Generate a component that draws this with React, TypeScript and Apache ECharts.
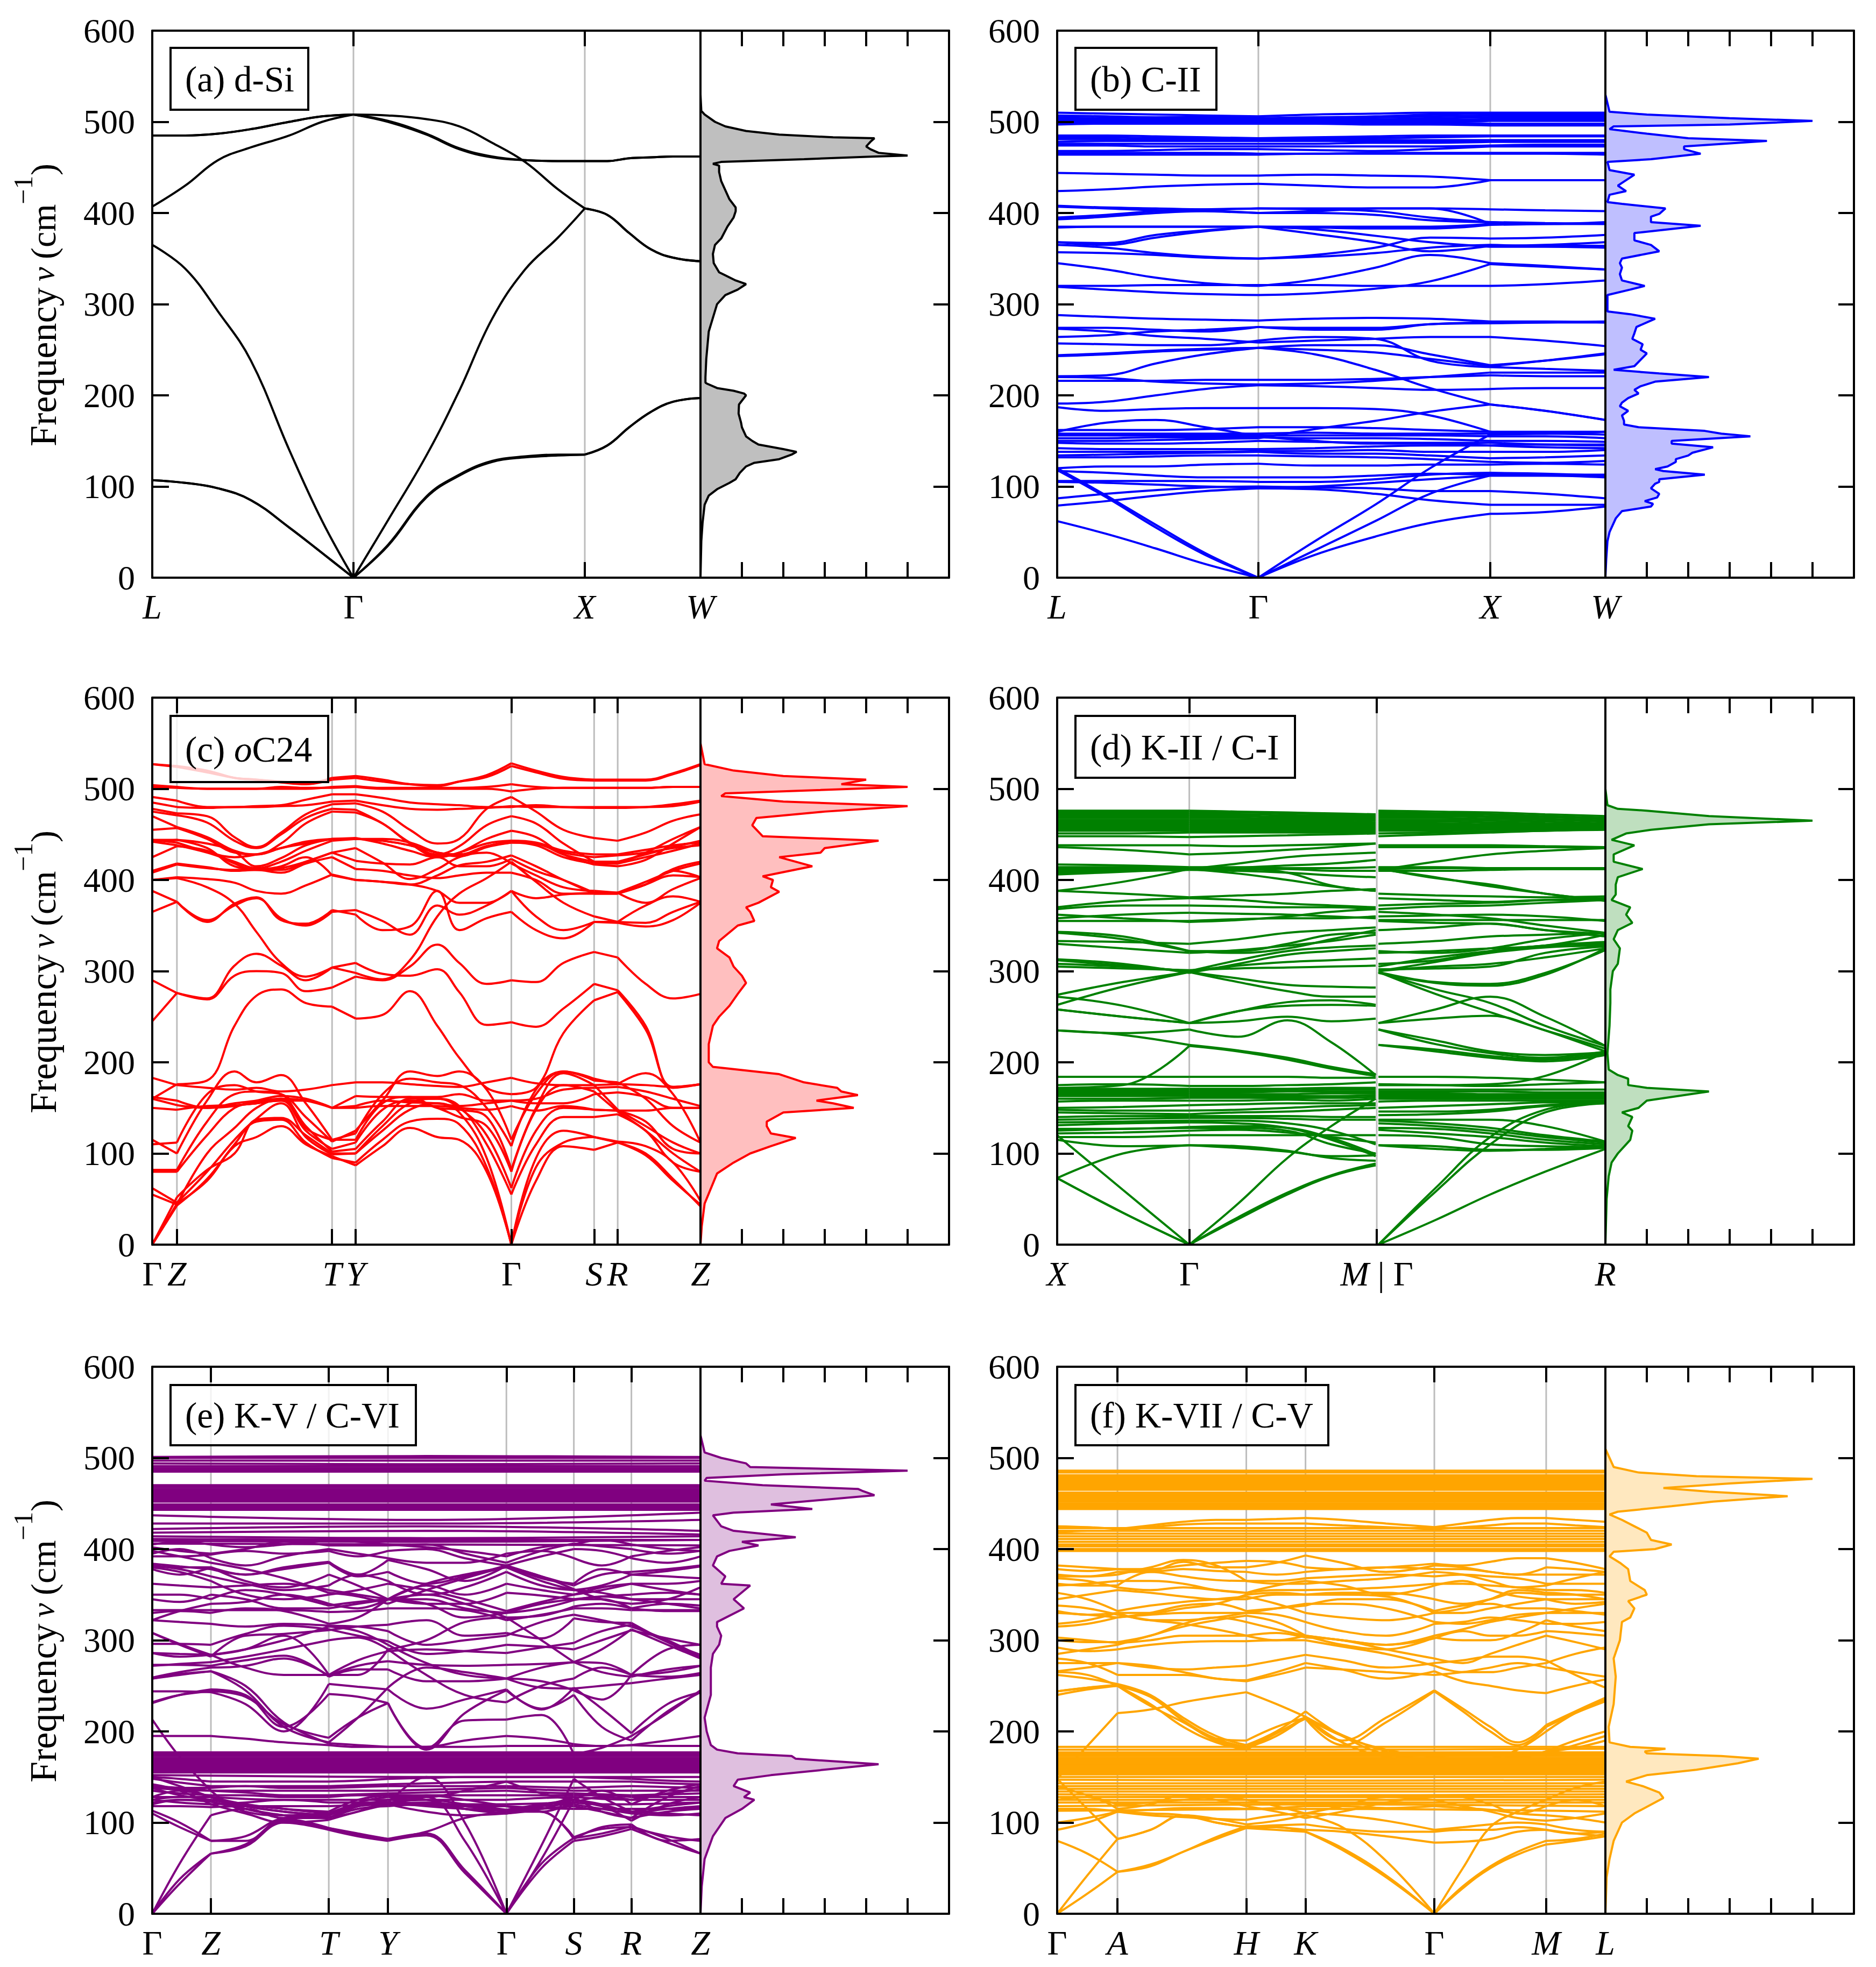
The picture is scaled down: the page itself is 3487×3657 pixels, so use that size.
import React, { useEffect, useRef } from "react";
import * as echarts from "echarts";

const FONT = "Liberation Serif";
const freqTicks = [0, 100, 200, 300, 400, 500, 600];
const whole = [0, .5, 1];

// (a) d-Si
const kA = [0,.06,.12,.18,.25,.31,.367,.43,.5,.56,.62,.68,.74,.789,.83,.87,.91,.95,1];
const bandsA = [
 [107,104,98,85,55,27,0,35,88,112,127,132,134,135,145,165,182,193,197],
 [107,104,98,85,55,27,0,36,89,113,128,133,135,135,145,165,182,193,197],
 [365,339,292,238,140,62,0,63,134,205,284,338,373,405,398,378,360,351,347],
 [407,430,458,472,485,500,508,507,503,495,477,456,426,405,398,378,360,351,347],
 [485,485,487,492,500,506,508,500,486,470,461,458,457,457,457,460,461,462,462],
 [485,485,487,492,500,506,508,501,487,471,462,458,457,457,457,460,461,462,462],
];
const dosA = [[0,0],[.02,40],[.05,60],[.1,80],[.2,90],[.4,97],[.7,104],[.85,108],[.95,115],[1.1,122],[1.3,126],[1.9,130],[2.2,135],[2.32,138],[2,141],[1.4,146],[1.25,150],[1.1,155],[1.05,160],[1,165],[.98,170],[.95,175],[.92,180],[.93,190],[1.1,200],[1.05,202],[.8,205],[.4,208],[.15,213],[.12,214],[.12,220],[.14,240],[.2,270],[.4,300],[.6,310],[.9,316],[1.1,322],[.85,326],[.45,335],[.32,345],[.3,355],[.35,365],[.5,372],[.65,385],[.8,395],[.85,402],[.85,406],[.7,415],[.6,425],[.5,435],[.45,445],[.45,452],[.3,454],[.5,456],[2.5,459],[4.2,462],[5,463],[4.3,466],[4.1,470],[4,473],[4.1,478],[4.2,482],[3.2,483],[1.9,486],[1.1,490],[.6,495],[.35,500],[.1,508],[.02,512],[0,530]];

// (b) C-II
const kB = [0,.09,.18,.27,.367,.47,.58,.68,.79,.89,1];
const bandsB = [
 [62,48,32,15,0,25,45,60,70,72,78],[118,88,55,25,0,30,62,92,112,112,112],[120,90,58,27,0,40,80,120,157,158,160],
 [79,84,90,95,98,97,92,85,80,80,80],[87,92,96,99,100,99,98,95,95,92,87],[105,104,102,100,99,100,104,108,112,112,110],
 [106,106,106,106,105,105,108,113,115,114,112],[117,115,112,110,110,110,112,114,113,113,113],[120,122,122,124,125,123,123,124,124,125,124],
 [132,132,133,134,134,133,132,130,127,126,128],[134,135,136,137,138,136,136,134,131,132,134],[138,138,138,138,139,139,140,138,138,138,140],
 [142,141,141,141,141,142,144,145,145,143,142],[148,147,147,148,150,149,148,148,148,146,145],[153,153,154,154,154,153,153,152,150,150,149],
 [156,156,156,156,156,156,156,156,155,155,153],[158,158,158,158,158,159,158,158,158,158,157],[160,170,173,165,155,150,147,147,145,146,146],
 [162,162,162,163,165,165,164,162,160,160,160],[150,150,151,152,153,163,172,182,190,183,173],[187,183,185,186,186,186,185,178,160,158,160],
 [191,193,200,207,211,210,208,206,207,208,208],[216,216,216,217,217,217,218,220,222,221,221],[220,219,215,213,212,213,216,220,225,225,225],
 [221,222,235,245,252,245,228,208,190,183,173],[244,246,249,251,252,250,247,240,232,238,246],[243,245,248,250,252,255,255,245,233,238,245],
 [257,256,255,255,260,264,262,238,231,229,227],[273,270,265,262,258,260,262,264,264,260,254],[264,266,270,272,275,274,274,278,279,280,281],
 [274,274,272,270,275,272,272,278,280,280,280],[288,286,284,283,282,284,285,284,281,281,280],[320,320,321,321,321,321,320,320,320,322,326],
 [319,316,313,311,310,312,317,325,344,341,338],[345,338,329,323,320,327,340,354,345,342,338],[357,356,354,351,350,352,356,362,365,364,364],
 [365,362,356,352,350,354,362,373,372,373,376],[368,365,373,380,385,377,368,358,364,365,368],[368,367,376,381,385,382,375,368,363,363,362],
 [385,385,385,385,385,385,385,385,388,388,388],[384,385,385,385,385,384,383,383,387,388,389],[393,396,400,402,400,400,398,392,390,388,390],
 [395,398,402,404,405,404,402,395,390,389,388],[408,406,405,404,405,405,405,405,404,403,402],[407,405,403,402,400,402,405,405,388,388,388],
 [424,426,429,431,432,430,428,428,436,436,436],[444,443,442,441,441,442,441,440,436,436,436],
 [464,464,464,464,464,465,465,465,465,465,464],[466,466,466,466,465,465,466,466,466,466,466],[468,468,469,470,470,469,468,470,473,473,473],
 [474,474,473,473,473,473,473,473,474,475,475],[476,476,476,476,476,476,477,477,478,478,478],[478,479,479,479,479,479,479,479,479,479,479],
 [481,481,480,480,480,480,480,480,480,480,480],[483,483,482,482,481,482,482,483,484,484,484],[485,485,484,483,482,483,484,485,485,485,485],
 [497,498,498,498,498,498,497,497,496,496,496],[499,499,499,499,499,499,499,499,498,498,498],[500,500,500,500,500,500,500,500,501,501,501],
 [502,501,501,501,501,502,502,502,503,503,503],[503,503,503,502,502,503,503,504,505,505,505],[505,504,504,503,503,504,505,506,507,507,507],
 [507,506,505,505,504,505,506,508,509,509,509],[510,509,508,507,506,508,509,510,510,510,510],
];
const dosB = [[0,0],[.02,20],[.05,40],[.1,50],[.25,65],[.4,73],[1.1,78],[1.15,81],[.95,84],[1.25,88],[1.3,92],[1.1,98],[1.2,103],[1.3,105],[1.3,108],[2.4,113],[1.4,117],[1.2,119],[1.5,122],[1.7,127],[1.7,130],[2,134],[2.1,137],[2.6,143],[1.6,147],[1.6,150],[3.5,155],[2.8,158],[2.4,161],[.8,165],[.45,168],[.45,172],[.4,178],[.55,183],[.35,188],[.4,192],[.55,197],[.8,202],[.7,206],[.85,210],[1.2,215],[2.5,220],[1.3,224],[.2,228],[.7,232],[1,246],[.85,250],[.9,256],[.65,262],[.7,268],[.75,275],[1.2,284],[.6,289],[.05,292],[.05,300],[.05,310],[.6,316],[.95,320],[.4,326],[.35,333],[.4,340],[.35,345],[.4,350],[1.3,358],[1.1,365],[.7,370],[.7,378],[2.3,386],[1.1,390],[1.1,396],[1.3,399],[1.45,405],[.4,410],[.05,412],[.1,420],[.5,424],[.3,430],[.7,442],[.1,447],[.05,456],[1.1,459],[2.3,465],[1.9,470],[1.9,473],[3.9,479],[2,482],[1,487],[.1,492],[.2,495],[3,497],[5,501],[3,504],[1,508],[.1,511],[0,530]];

// (c) oC24
const kC = [0,.045,.1,.15,.19,.235,.28,.328,.371,.42,.47,.52,.56,.61,.655,.70,.75,.806,.849,.9,.95,1];
const bandsC = [
 [0,45,70,108,118,130,110,97,87,108,128,118,115,80,0,70,108,104,112,98,70,44],
 [0,43,72,110,135,137,112,95,90,115,135,138,132,85,0,85,112,118,112,100,72,42],
 [0,52,82,100,137,139,120,100,100,125,148,155,145,95,0,95,125,118,113,108,90,48],
 [62,46,80,115,138,155,118,99,100,130,155,160,152,110,55,110,140,140,143,125,90,80],
 [55,44,100,128,150,160,130,102,105,135,160,160,150,120,62,125,150,148,147,135,105,100],
 [80,80,120,150,155,158,125,105,112,148,158,150,140,130,80,148,175,168,146,125,100,80],
 [82,82,135,165,168,165,128,115,115,155,162,150,148,140,82,150,188,175,148,130,112,100],
 [110,112,165,175,168,165,140,113,125,158,190,185,190,170,115,165,190,180,178,160,130,112],
 [115,100,158,190,178,186,155,115,122,165,182,178,175,150,108,170,190,182,176,188,165,112],
 [150,148,152,153,155,158,158,150,150,152,152,152,150,148,152,147,152,148,147,147,150,150],
 [160,153,150,152,157,160,158,150,152,158,156,155,152,155,158,155,155,165,167,162,150,150],
 [162,158,150,155,158,163,160,150,163,162,162,162,165,158,158,160,170,172,173,168,160,152],
 [183,175,172,170,172,168,170,175,178,178,176,174,173,178,183,177,175,175,176,175,173,176],
 [160,176,180,240,273,280,265,261,248,252,278,240,205,172,165,172,232,268,277,236,173,176],
 [245,276,270,306,319,306,290,304,309,297,295,302,277,241,244,239,259,286,279,240,172,176],
 [290,276,269,295,300,298,278,282,294,290,305,329,309,286,290,288,309,321,315,286,270,275],
 [400,402,392,374,343,309,294,304,298,291,312,360,385,402,420,398,375,360,354,353,365,376],
 [365,376,354,374,381,356,352,367,362,345,349,388,345,358,365,345,336,354,353,349,356,375],
 [388,376,356,372,380,358,350,365,367,355,340,372,362,372,388,360,345,354,354,372,382,376],
 [400,403,401,397,388,385,394,406,400,398,395,388,375,375,388,380,384,386,386,375,390,402],
 [408,417,413,411,411,413,420,430,435,419,401,412,425,430,418,405,392,388,386,398,410,418],
 [425,437,432,418,411,411,420,430,421,418,417,425,415,415,423,410,400,386,386,395,412,420],
 [442,444,435,415,412,415,425,405,400,398,395,405,416,420,427,415,400,385,385,395,405,403],
 [410,418,414,410,411,408,418,425,412,410,405,402,405,408,408,400,385,385,385,395,410,403],
 [444,441,431,425,428,435,440,445,446,440,432,425,430,440,443,440,430,425,427,430,435,438],
 [444,444,440,431,415,424,438,445,445,443,438,430,428,437,443,441,432,428,428,433,438,441],
 [442,438,430,420,413,420,432,443,445,445,441,430,426,436,441,440,428,420,420,428,436,443],
 [455,457,445,430,428,435,442,445,445,443,438,430,428,437,441,438,425,418,418,425,432,440],
 [478,473,470,447,436,452,472,483,484,475,455,440,445,478,491,475,455,446,443,452,465,472],
 [475,471,463,443,435,450,468,478,477,462,441,428,437,460,470,462,440,420,418,430,445,458],
 [470,458,447,432,428,440,462,475,474,462,440,426,430,445,454,447,428,417,415,422,440,458],
 [491,487,480,480,481,482,488,494,494,490,485,483,482,480,480,482,480,479,479,480,483,487],
 [485,480,479,480,480,481,482,486,487,482,478,477,478,479,481,480,480,480,480,480,481,486],
 [504,502,500,500,500,500,500,502,503,501,501,501,501,502,505,502,501,501,501,501,502,502],
 [502,501,500,500,500,502,501,501,502,500,500,500,500,500,497,500,501,501,501,501,502,502],
 [527,525,520,512,510,508,506,512,514,510,505,503,508,515,528,520,513,510,510,510,517,527],
 [527,524,518,512,510,507,505,510,512,508,505,504,508,513,525,518,511,509,509,509,516,526],
];
const dosC = [[0,0],[.03,20],[.1,45],[.4,78],[.8,90],[1.2,100],[1.7,108],[2.3,117],[1.7,122],[1.6,130],[1.6,135],[2,145],[3.7,150],[3.2,155],[2.8,158],[3.8,164],[3.4,168],[3.3,172],[2.5,178],[1.9,187],[.3,195],[.2,200],[.2,220],[.3,240],[.45,250],[.7,262],[.9,275],[1.1,287],[1,295],[.8,305],[.7,315],[.4,325],[.45,333],[.9,350],[1.3,355],[1.2,365],[1.1,370],[1.4,375],[1.9,387],[1.7,392],[1.75,400],[1.5,404],[2.7,415],[1.9,425],[2.9,430],[3,435],[4.3,443],[1.5,448],[1.25,460],[1.35,468],[3,475],[5,481],[2,486],[.5,492],[.6,495],[5,502],[3.4,505],[4,510],[2,514],[.8,520],[.1,527],[0,550]];

// (d) K-II / C-I
const kD1 = [0,.12,.241,.33,.42,.50,.581];
const bandsD1 = [
 [73,35,0,28,55,75,87],[73,35,0,30,57,76,89],[120,60,0,45,95,130,160],[73,100,109,108,103,95,92],[115,108,109,106,102,97,98],
 [118,118,120,120,120,120,120],[122,123,125,126,123,118,112],[125,127,128,128,125,110,100],[127,127,129,130,128,117,99],[131,133,134,133,128,115,97],
 [134,135,136,136,133,125,110],[137,138,139,139,138,137,137],[140,141,141,141,141,140,140],[145,144,143,145,146,148,150],[148,147,147,148,150,152,153],[150,151,153,154,155,155,155],
 [157,158,158,158,159,158,160],[160,160,161,161,161,161,162],[163,163,163,163,163,163,164],[165,165,165,165,165,166,166],[167,167,167,167,168,168,168],[169,169,169,169,169,170,170],[171,171,171,171,171,172,172],[175,176,174,174,175,176,178],[184,184,184,184,184,183,183],
 [172,175,218,212,203,193,185],[235,230,219,213,205,195,187],[235,232,236,228,246,222,186],[258,250,243,245,250,245,248],[263,283,299,292,285,283,282],[274,288,299,288,278,272,272],[272,262,243,256,266,268,263],[258,250,243,256,262,263,262],
 [305,303,301,303,304,305,306],[308,305,300,306,310,312,314],[313,308,298,308,318,322,325],[312,306,300,312,322,326,328],[330,325,320,323,328,333,340],[343,338,322,320,325,335,345],[342,335,322,322,330,340,342],[333,332,330,335,342,345,348],
 [355,355,355,357,358,358,360],[358,362,364,363,362,360,358],[362,358,354,356,360,365,368],[368,372,372,371,370,370,368],[370,377,380,378,374,372,370],[388,385,381,383,385,388,390],
 [388,398,412,412,408,394,388],[408,410,412,407,400,393,388],[406,409,412,418,425,428,430],[410,410,411,410,408,405,403],[412,412,412,412,412,410,410],[414,414,413,413,413,413,414],[417,416,414,414,416,418,422],
 [436,433,428,430,433,436,440],[438,438,438,437,438,439,440],
 [448,448,447,448,449,450,451],[451,451,452,452,452,452,452],[454,454,454,454,454,454,454],[456,456,456,456,456,456,456],[458,458,458,458,458,458,458],[460,460,460,460,460,460,460],[462,462,462,462,462,462,462],[464,464,464,464,464,464,463],[466,466,466,466,466,466,465],[468,468,468,468,467,467,467],[470,470,470,470,469,469,468],[472,472,472,472,471,470,469],[474,474,474,474,473,472,470],[476,476,476,475,474,473,472],
];
const kD2 = [.586,.69,.79,.89,1];
const bandsD2 = [
 [0,27,55,80,105],[0,58,110,145,155],[0,62,118,148,156],[109,108,104,104,106],[109,105,103,105,108],[120,118,110,108,107],[126,122,118,112,108],[128,127,122,115,110],[133,130,125,118,112],[136,133,128,120,113],[137,137,137,130,113],
 [142,143,146,152,155],[146,146,148,153,156],[150,152,154,156,157],[157,158,158,158,158],[160,160,160,160,160],[162,162,162,162,162],[164,164,164,163,163],[166,166,165,165,165],[168,168,168,167,167],[170,170,170,170,170],[176,175,174,176,178],[184,184,183,181,178],[175,175,176,185,211],
 [219,214,207,203,210],[219,212,205,201,208],[236,224,212,208,211],[236,220,210,205,212],[243,258,272,250,218],[243,248,251,235,215],[299,280,265,240,218],[299,275,255,235,212],[298,287,284,296,325],[299,288,286,298,323],
 [300,305,308,315,325],[302,303,305,320,327],[300,310,320,326,328],[305,315,322,328,330],[308,312,322,328,332],[320,322,325,328,340],[322,320,325,335,342],[330,333,338,340,342],[345,348,352,345,341],[355,353,352,345,338],[356,356,356,356,356],[360,361,362,360,355],[365,362,358,350,342],[368,371,372,375,378],[372,374,375,378,380],[380,378,376,378,378],[385,383,382,381,382],
 [413,402,395,385,378],[412,403,393,385,377],[414,414,413,412,412],[412,413,413,413,413],[410,410,411,412,412],[411,420,428,432,435],[436,436,436,436,435],[438,438,438,437,436],
 [448,450,452,454,455],[451,452,453,454,456],[454,454,455,455,456],[456,456,457,457,457],[458,458,458,458,458],[460,460,460,460,459],[462,462,461,461,460],[464,464,463,462,461],[466,466,465,464,462],[468,468,467,466,464],[470,470,469,467,465],[472,472,470,469,467],[474,473,472,470,468],[476,475,474,472,470],
];
const dosD = [[0,0],[.03,50],[.08,75],[.15,90],[.3,100],[.5,110],[.6,115],[.65,125],[.55,130],[.65,140],[.4,145],[.8,150],[1,158],[2.5,168],[1,172],[.55,175],[.55,182],[.3,186],[.08,192],[.05,210],[.1,240],[.12,265],[.12,280],[.18,300],[.3,308],[.35,325],[.2,335],[.3,345],[.65,353],[.5,362],[.6,370],[.15,378],[.25,384],[.25,395],[.3,403],[.9,412],[.2,420],[.2,428],[.7,438],[.15,444],[.5,451],[1.1,455],[2.5,461],[5,465],[2.5,470],[1,476],[.3,478],[.05,482],[0,500]];

// (e) K-V / C-VI
const kE = [0,.05,.107,.17,.24,.322,.375,.43,.5,.57,.646,.71,.769,.82,.874,.94,1];
const bandsE = [
 [0,33,66,74,100,92,85,80,86,45,0,50,80,85,93,78,66],[0,38,66,76,102,94,87,82,88,48,0,55,83,88,96,82,66],
 [0,55,108,115,105,105,118,125,128,80,0,75,148,128,112,110,108],[113,100,80,80,104,94,88,82,90,105,112,112,82,95,98,80,82],
 [110,95,80,85,105,108,118,122,118,115,113,112,84,93,95,85,80],[213,172,135,112,108,110,120,122,150,100,0,60,125,120,110,108,110],
 [232,240,244,238,208,193,215,231,182,212,213,218,175,182,195,220,245],[231,240,246,240,205,241,238,231,180,220,245,225,240,205,190,222,243],
 [244,244,243,230,200,252,249,246,225,235,246,224,248,225,198,230,243],[258,263,266,245,205,188,215,248,270,265,258,255,245,235,262,260,264],
 [258,262,266,250,210,187,185,183,183,183,184,184,184,184,185,184,184],
 [273,273,272,278,283,260,268,268,255,255,258,248,247,250,253,258,262],[259,265,270,272,280,261,272,277,273,272,273,274,276,265,260,268,272],
 [286,285,284,290,305,262,278,288,290,288,286,292,297,310,317,298,284],[296,296,295,307,316,312,305,299,285,288,295,293,290,300,311,302,295],
 [308,295,282,305,307,311,315,317,322,305,308,302,324,320,319,298,282],[322,332,340,342,350,340,335,345,345,335,330,335,344,348,345,340,335],
 [330,332,330,335,332,318,325,345,350,340,325,327,337,340,335,332,332],[333,333,333,333,333,331,332,335,335,333,322,328,335,335,333,333,333],
 [350,350,345,355,350,338,342,345,340,340,352,349,345,348,350,352,350],[362,360,358,360,362,355,350,345,360,350,362,355,350,358,362,362,365],
 [378,372,380,365,358,372,360,345,362,372,380,365,355,360,372,370,368],[381,380,380,372,378,385,370,375,362,370,382,370,360,372,375,378,382],
 [384,381,378,372,380,386,372,388,378,365,382,368,362,378,372,376,381],[392,392,394,398,395,398,392,398,400,390,382,392,400,398,390,385,392],
 [402,398,395,400,408,404,404,404,405,395,385,398,406,403,400,395,398],
 [120,125,123,115,108,105,115,118,120,115,110,115,118,112,105,112,115],[122,125,125,118,112,108,118,120,122,118,112,118,120,115,110,115,118],
 [125,128,128,120,115,110,120,122,125,120,114,120,125,118,112,118,122],[118,118,117,118,118,118,119,120,119,118,118,116,115,115,115,115,116],
 [125,122,120,122,125,122,122,122,121,120,120,121,122,120,120,121,122],[128,128,128,126,125,125,125,125,125,125,125,127,128,126,125,125,125],
 [135,132,130,130,128,128,130,130,130,130,130,130,130,130,128,128,128],[138,136,135,133,130,130,131,132,133,134,135,133,132,131,130,131,132],
 [140,138,135,135,135,135,135,135,136,137,138,136,135,135,135,135,135],[137,138,138,140,138,138,139,140,140,140,140,139,138,139,140,139,138],
 [148,144,140,140,140,140,141,142,143,144,145,145,145,145,145,143,142],[150,148,145,145,145,145,146,148,149,150,150,150,150,149,148,146,145],
 [308,296,284,290,300,315,310,295,275,262,258,270,276,275,262,265,272],[286,282,284,270,262,262,262,290,300,320,325,300,276,290,312,295,280],
 [272,274,276,282,290,300,303,290,262,240,232,250,258,270,262,290,295],[322,320,318,315,318,316,315,310,295,300,305,320,328,322,315,300,282],
 [345,342,350,345,335,335,340,345,340,325,330,340,345,345,335,340,338],[380,375,365,350,345,350,355,362,355,345,332,342,350,355,362,355,350],
 [382,378,370,362,355,360,372,365,350,358,375,360,355,352,345,345,345],[398,392,385,378,368,352,348,340,355,368,381,370,356,345,340,345,358],
 [395,400,390,382,392,400,395,390,385,385,395,398,390,382,392,398,402],[405,408,405,402,405,410,408,405,402,398,392,402,405,410,405,400,398],
 [150,140,128,118,112,108,122,128,125,115,110,115,125,118,102,120,128],[142,135,120,110,100,103,112,120,112,108,110,118,128,112,105,128,140],
 [128,135,128,115,108,106,112,125,130,125,118,112,122,128,125,132,136],[138,130,125,120,115,112,125,130,128,135,145,132,125,135,120,135,142],
 [195,195,195,192,188,185,183,183,183,190,195,192,186,184,185,190,195],
];
const flatE = [[152,150,150],[155,155,155],[157,157,157],[159,159,159],[161,161,161],[163,163,163],[165,165,165],[167,167,167],[169,169,169],[171,171,171],[173,173,173],[175,175,175],[177,177,177],
 [406,405,404],[409,408,410],[411,410,410],[414,412,414],[418,420,416],[422,425,420],[428,428,432],[437,432,440],
 [443,443,443],[445,445,445],[447,447,447],[449,449,449],[452,452,452],[454,454,454],[456,456,456],[458,458,458],[460,460,460],[462,462,462],[464,464,464],[466,466,466],[468,468,468],[470,470,470],
 [485,485,485],[487,487,487],[489,489,489],[491,491,491],[494,493,494],[497,497,497],[500,500,500],[501,502,501]];
const dosE = [[0,0],[.03,30],[.1,60],[.3,85],[.6,105],[1,115],[1.3,125],[1.05,128],[1.2,133],[.8,140],[.9,147],[1.7,152],[4.3,164],[2.3,170],[2.2,173],[.9,176],[.4,180],[.25,185],[.15,200],[.1,215],[.25,240],[.25,270],[.3,285],[.45,295],[.5,305],[.4,315],[.4,320],[1.05,335],[.8,345],[1.2,360],[.5,362],[.6,370],[.3,382],[.4,392],[.7,398],[1.4,404],[1,408],[2.3,413],[.8,420],[.5,425],[.3,437],[.8,440],[2.7,444],[1.7,449],[4.2,459],[3.9,464],[3.8,466],[1.5,470],[.1,475],[.15,478],[2,482],[5,486],[1.2,490],[1.1,494],[.5,500],[.1,506],[0,525]];

// (f) K-VII / C-V
const kF = [0,.055,.110,.17,.23,.29,.345,.40,.453,.52,.60,.688,.74,.79,.84,.892,.945,1];
const bandsF = [
 [0,22,46,52,68,82,94,92,90,70,40,0,28,50,65,76,80,85],[0,42,82,92,108,100,95,95,90,72,42,0,30,52,68,80,82,88],
 [80,66,46,54,68,84,96,95,92,90,85,78,79,82,90,92,88,85],[92,100,112,110,108,100,95,97,98,93,90,90,92,92,95,92,88,90],
 [148,115,82,92,108,104,98,102,108,95,58,0,50,95,112,125,138,145],[148,184,220,224,232,238,243,230,216,196,178,165,165,170,180,200,220,235],
 [262,258,252,240,215,195,185,200,222,195,175,170,168,168,170,178,190,200],[265,262,250,238,212,192,190,205,215,195,180,172,170,170,172,176,185,195],
 [244,248,251,238,212,192,183,198,216,188,172,168,168,170,172,178,182,190],[240,246,250,228,210,190,182,195,216,190,215,245,225,205,188,207,222,237],
 [244,248,250,230,205,188,180,198,214,185,210,244,222,200,185,205,220,233],[266,270,275,272,265,258,256,265,275,268,258,266,255,250,245,242,250,257],
 [275,275,275,270,268,270,272,278,284,278,270,275,278,282,282,278,262,248],[280,275,262,262,262,258,255,262,270,268,265,262,265,270,275,270,265,260],
 [292,288,290,295,298,299,299,300,300,293,285,272,265,265,270,275,285,292],[303,300,297,300,305,305,305,308,303,300,290,280,275,285,295,305,298,290],
 [285,290,295,305,315,322,327,320,305,300,295,302,310,305,305,310,308,305],[300,298,298,305,318,325,320,312,305,295,290,303,300,300,308,322,315,310],
 [315,318,325,328,330,330,330,328,320,310,305,318,320,325,322,318,318,320],[318,322,330,322,322,325,330,335,340,340,335,320,318,322,328,330,330,330],
 [330,328,325,330,338,340,332,335,338,345,345,332,338,340,335,335,332,328],[332,328,330,330,335,340,350,352,350,350,348,330,330,335,340,345,345,345],
 [345,350,355,352,348,345,345,350,350,352,352,345,340,345,352,350,350,350],[360,362,365,365,362,355,352,355,355,356,358,362,362,360,358,355,355,352],
 [362,360,360,375,370,366,365,365,368,370,372,370,372,370,368,362,362,362],[370,370,375,375,378,376,375,372,375,378,380,378,378,375,372,372,372,372],
 [382,380,378,378,382,385,387,386,380,378,380,384,382,386,390,390,385,378],[378,376,378,376,386,380,380,385,393,385,375,382,380,375,372,380,378,375],
 [425,424,422,426,430,432,432,433,434,432,428,424,428,432,434,434,432,430],[418,420,420,424,427,428,428,428,428,426,424,422,424,426,428,428,426,424],
 [100,105,112,108,106,104,103,108,110,108,102,92,95,98,100,98,92,90],[115,115,112,114,116,116,115,116,118,118,116,118,116,114,110,108,105,100],
 [338,335,328,322,318,312,305,300,305,300,295,305,312,320,325,330,335,340],[352,345,332,338,342,345,348,340,330,325,322,330,335,345,355,352,350,345],
 [368,365,358,355,358,355,352,360,365,360,350,360,365,355,348,345,340,342],[372,370,372,380,388,382,365,362,362,365,368,375,372,365,358,360,368,375],
 [125,128,115,120,130,125,118,112,105,112,122,130,128,120,110,118,125,118],[140,130,120,122,125,128,125,118,110,118,128,125,118,112,105,102,105,110],
];
const flatF = [[113,115,112],[118,120,118],[122,122,122],[125,125,125],[128,128,128],[131,130,131],[134,134,134],[137,137,137],[140,140,140],[143,143,143],[147,146,147],[150,150,150],
 [153,153,153],[155,155,155],[157,157,157],[159,159,159],[161,161,161],[163,163,163],[165,165,165],[167,167,167],[169,169,169],[171,171,171],[173,173,173],[175,175,175],[177,177,177],[180,180,181],[183,183,183],
 [398,398,398],[400,400,400],[403,403,403],[405,405,405],[408,408,408],[411,411,411],[414,414,414],[417,417,417],[420,420,420],[423,423,423],
 [444,444,444],[446,446,446],[448,448,448],[450,450,450],[452,452,452],[454,454,454],[456,456,456],[458,458,458],[460,460,460],[462,462,462],[465,465,465],[467,467,467],[469,469,469],[471,471,471],[473,473,473],[475,475,475],[477,477,477],[479,479,479],[481,481,481],[484,484,484],[486,486,486]];
const dosF = [[0,0],[.03,40],[.1,60],[.2,80],[.4,100],[.7,110],[1.4,127],[1.3,133],[.9,140],[.5,145],[1,152],[2.2,158],[3.2,165],[3.7,170],[2.8,173],[1,176],[.95,178],[1.45,181],[.6,183],[.1,188],[.08,205],[.2,230],[.25,260],[.2,280],[.35,300],[.4,320],[.6,325],[.7,335],[.55,343],[1,350],[.95,355],[.6,365],[.55,378],[.35,385],[.1,392],[.2,397],[1.2,400],[1.6,405],[1.1,410],[1,418],[.7,425],[.4,432],[.1,438],[.3,441],[1.6,447],[2.6,452],[4.4,458],[2.5,463],[1.4,467],[3,472],[5,477],[2.2,480],[.8,484],[.2,490],[0,510]];

const M = (s: string) => `{i|${s}}`; const G = "{n|Γ}";
const panels: any[] = [
 {left:283,top:57,color:"#000",ticks:[0,.367,.789,1],labels:[M("L"),G,M("X"),M("W")],title:"{n|(a) d-Si}",boxW:256,boxH:115,boxY:32,groups:[[kA,bandsA]],dos:dosA},
 {left:1965,top:57,color:"#0000ff",ticks:[0,.367,.79,1],labels:[M("L"),G,M("X"),M("W")],title:"{n|(b) C-II}",boxW:262,boxH:115,boxY:32,groups:[[kB,bandsB]],dos:dosB},
 {left:283,top:1297,color:"#ff0000",ticks:[0,.045,.328,.371,.655,.806,.849,1],labels:[G,M("Z"),M("T"),M("Y"),G,M("S"),M("R"),M("Z")],title:"{n|(c) }{i|o}{n|C24}",boxW:293,boxH:123,boxY:34,groups:[[kC,bandsC]],dos:dosC},
 {left:1965,top:1297,color:"#008000",ticks:[0,.241,.583,1],labels:[M("X"),G,M("M")+"{n| | Γ}",M("R")],title:"{n|(d) K-II / C-I}",boxW:408,boxH:115,boxY:34,groups:[[kD1,bandsD1],[kD2,bandsD2]],dos:dosD},
 {left:283,top:2541,color:"#800080",ticks:[0,.107,.322,.43,.646,.769,.874,1],labels:[G,M("Z"),M("T"),M("Y"),G,M("S"),M("R"),M("Z")],title:"{n|(e) K-V / C-VI}",boxW:456,boxH:112,boxY:34,groups:[[kE,bandsE],[whole,flatE]],dos:dosE},
 {left:1965,top:2541,color:"#ffa500",ticks:[0,.110,.345,.453,.688,.892,1],labels:[G,M("A"),M("H"),M("K"),G,M("M"),M("L")],title:"{n|(f) K-VII / C-V}",boxW:470,boxH:112,boxY:34,groups:[[kF,bandsF],[whole,flatF]],dos:dosF},
];
const W1 = 1019, W2 = 462, H = 1017;

function buildOption() {
  const grid: any[] = [], xAxis: any[] = [], yAxis: any[] = [], series: any[] = [], graphic: any[] = [];
  const rich = { n: { fontFamily: FONT, fontSize: 64, color: "#000" }, i: { fontFamily: FONT, fontSize: 64, fontStyle: "italic", color: "#000" } };
  const richT = { n: { fontFamily: FONT, fontSize: 67, color: "#000" }, i: { fontFamily: FONT, fontSize: 67, fontStyle: "italic", color: "#000" } };
  const line = { show: true, onZero: false, lineStyle: { color: "#000", width: 4 } };
  const tick = (cv?: number[]) => ({ show: true, inside: true, length: 29, lineStyle: { color: "#000", width: 4 }, ...(cv ? { customValues: cv } : {}) });
  panels.forEach((p) => {
    const g0 = grid.length;
    grid.push({ left: p.left, top: p.top, width: W1, height: H });
    grid.push({ left: p.left + W1, top: p.top, width: W2, height: H });
    const xb = xAxis.length;
    xAxis.push({ gridIndex: g0, type: "value", min: 0, max: 1, position: "bottom", z: 5, axisLine: line, axisTick: tick(p.ticks), splitLine: { show: false },
      axisLabel: { show: true, customValues: p.ticks, margin: 22, rich, hideOverlap: false, formatter: (v: number) => p.labels[p.ticks.indexOf(v)] ?? "" } });
    xAxis.push({ gridIndex: g0, type: "value", min: 0, max: 1, position: "top", z: 5, axisLine: line, axisTick: tick(p.ticks), splitLine: { show: false }, axisLabel: { show: false } });
    const dosTicks = [0, 1, 2, 3, 4, 5, 6];
    xAxis.push({ gridIndex: g0 + 1, type: "value", min: 0, max: 6, position: "bottom", z: 5, axisLine: line, axisTick: tick(dosTicks), splitLine: { show: false }, axisLabel: { show: false } });
    xAxis.push({ gridIndex: g0 + 1, type: "value", min: 0, max: 6, position: "top", z: 5, axisLine: line, axisTick: tick(dosTicks), splitLine: { show: false }, axisLabel: { show: false } });
    const yb = yAxis.length;
    yAxis.push({ gridIndex: g0, type: "value", min: 0, max: 600, interval: 100, position: "left", z: 5, axisLine: line, axisTick: { ...tick(), length: 31 }, splitLine: { show: false },
      axisLabel: { show: true, margin: 32, fontFamily: FONT, fontSize: 64, color: "#000", showMinLabel: true, showMaxLabel: true, customValues: freqTicks } });
    yAxis.push({ gridIndex: g0 + 1, type: "value", min: 0, max: 600, interval: 100, position: "left", z: 6, axisLine: line, axisTick: { show: false }, splitLine: { show: false }, axisLabel: { show: false } });
    yAxis.push({ gridIndex: g0 + 1, type: "value", min: 0, max: 600, interval: 100, position: "right", z: 5, axisLine: line, axisTick: { ...tick(), length: 29 }, splitLine: { show: false }, axisLabel: { show: false } });
    const base = { type: "line", showSymbol: false, silent: true, animation: false, xAxisIndex: xb, yAxisIndex: yb };
    p.ticks.slice(1, -1).forEach((k: number) => series.push({ ...base, z: 1, data: [[k, 0], [k, 600]], lineStyle: { color: "#bdbdbd", width: 3 } }));
    p.groups.forEach(([k, rows]: [number[], number[][]]) => {
      const cuts = k.map((v, i) => (i === 0 || i === k.length - 1 || p.ticks.includes(v) ? i : -1)).filter((i) => i >= 0);
      rows.forEach((r) => {
        for (let c = 0; c + 1 < cuts.length; c++) {
          const pts = [];
          for (let i = cuts[c]; i <= cuts[c + 1]; i++) pts.push([k[i], r[i]]);
          series.push({ ...base, z: 2, smooth: 0.4, data: pts, lineStyle: { color: p.color, width: 4 } });
        }
      });
    });
    series.push({ type: "custom", silent: true, xAxisIndex: xb + 2, yAxisIndex: yb + 1, z: 2, data: [[0, 0]], clip: true,
      renderItem: (_: any, api: any) => ({ type: "polygon", shape: { points: p.dos.map((d: number[]) => api.coord(d)) }, style: { fill: p.color, opacity: 0.25 } }) });
    series.push({ ...base, xAxisIndex: xb + 2, yAxisIndex: yb + 1, z: 3, data: p.dos, lineStyle: { color: p.color, width: 4 } });
    graphic.push({ type: "rect", z: 20, shape: { x: p.left + 34, y: p.top + p.boxY, width: p.boxW, height: p.boxH }, style: { fill: "rgba(255,255,255,0.8)", stroke: "#000", lineWidth: 4 } });
    graphic.push({ type: "text", z: 21, x: p.left + 61, y: p.top + p.boxY + p.boxH / 2, style: { text: p.title, rich: richT, textVerticalAlign: "middle", fill: "#000" } });
    if (p.left < 1000) {
      const t = { type: "text", z: 21, rotation: Math.PI / 2 };
      graphic.push({ ...t, x: 80, y: p.top + 773, style: { text: "Frequency", font: `70px '${FONT}'`, textVerticalAlign: "middle", fill: "#000" } });
      graphic.push({ ...t, x: 80, y: p.top + 466, style: { text: "ν", font: `italic 60px '${FONT}'`, textVerticalAlign: "middle", fill: "#000" } });
      graphic.push({ ...t, x: 80, y: p.top + 425, style: { text: "(cm", font: `66px '${FONT}'`, textVerticalAlign: "middle", fill: "#000" } });
      graphic.push({ ...t, x: 43, y: p.top + 323, style: { text: "−1", font: `50px '${FONT}'`, textVerticalAlign: "middle", fill: "#000" } });
      graphic.push({ ...t, x: 80, y: p.top + 269, style: { text: ")", font: `66px '${FONT}'`, textVerticalAlign: "middle", fill: "#000" } });
    }
  });
  return { animation: false, backgroundColor: "#fff", grid, xAxis, yAxis, series, graphic };
}

export default function App() {
  const ref = useRef<HTMLDivElement>(null);
  useEffect(() => {
    const c = echarts.init(ref.current!, undefined, { renderer: "svg" });
    c.setOption(buildOption() as any);
    return () => c.dispose();
  }, []);
  return <div ref={ref} style={{ position: "absolute", left: 0, top: 0, width: 3487, height: 3657 }} />;
}
